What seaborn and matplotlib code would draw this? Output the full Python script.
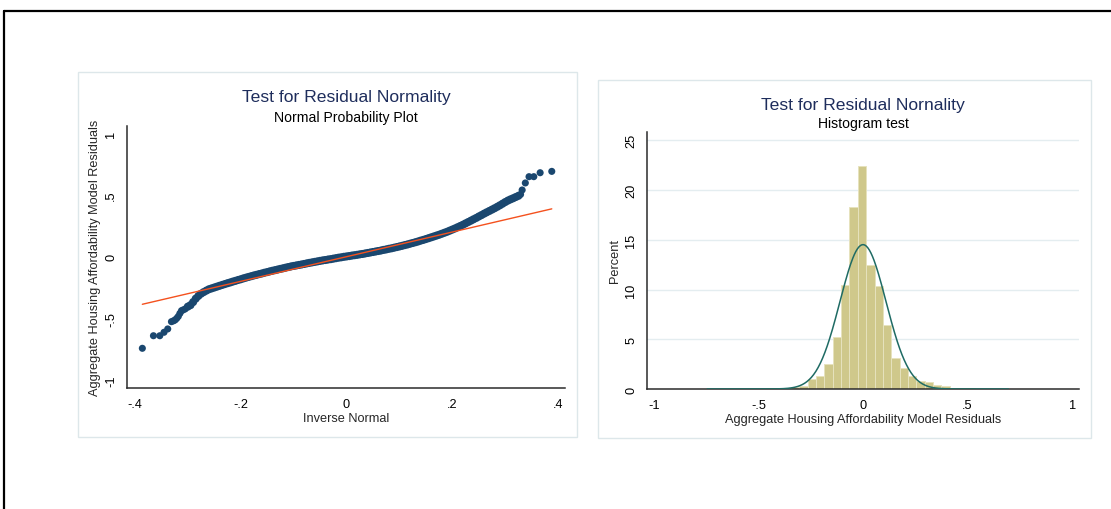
import numpy as np
import pandas as pd
import matplotlib
matplotlib.use("Agg")
import matplotlib.pyplot as plt
import seaborn as sns
from matplotlib.patches import Rectangle
from matplotlib.lines import Line2D

# ---------------- data ----------------
# Normal probability plot: inverse-normal quantile (x) vs sorted residual (y)
qq_band_x = [-0.300, -0.295, -0.290, -0.285, -0.280, -0.275, -0.270, -0.265, -0.260, -0.255,
             -0.250, -0.245, -0.240, -0.235, -0.230, -0.225, -0.220, -0.215, -0.210, -0.205,
             -0.200, -0.195, -0.190, -0.185, -0.180, -0.175, -0.170, -0.165, -0.160, -0.155,
             -0.150, -0.145, -0.140, -0.135, -0.130, -0.125, -0.120, -0.115, -0.110, -0.105,
             -0.100, -0.095, -0.090, -0.085, -0.080, -0.075, -0.070, -0.065, -0.060, -0.055,
             -0.050, -0.045, -0.040, -0.035, -0.030, -0.025, -0.020, -0.015, -0.010, -0.005,
             0.000, 0.005, 0.010, 0.015, 0.020, 0.025, 0.030, 0.035, 0.040, 0.045,
             0.050, 0.055, 0.060, 0.065, 0.070, 0.075, 0.080, 0.085, 0.090, 0.095,
             0.100, 0.105, 0.110, 0.115, 0.120, 0.125, 0.130, 0.135, 0.140, 0.145,
             0.150, 0.155, 0.160, 0.165, 0.170, 0.175, 0.180, 0.185, 0.190, 0.195,
             0.200, 0.205, 0.210, 0.215, 0.220, 0.225, 0.230, 0.235, 0.240, 0.245,
             0.250, 0.255, 0.260, 0.265, 0.270, 0.275, 0.280, 0.285, 0.290, 0.295,
             0.300, 0.305, 0.310, 0.315, 0.320, 0.325]
qq_band_y = [-0.405, -0.393, -0.368, -0.340, -0.318, -0.300, -0.287, -0.275, -0.264, -0.257,
             -0.250, -0.243, -0.236, -0.229, -0.222, -0.215, -0.209, -0.202, -0.196, -0.189,
             -0.183, -0.176, -0.170, -0.164, -0.158, -0.152, -0.147, -0.141, -0.136, -0.130,
             -0.125, -0.119, -0.114, -0.109, -0.104, -0.099, -0.094, -0.089, -0.084, -0.079,
             -0.075, -0.071, -0.067, -0.063, -0.059, -0.054, -0.050, -0.046, -0.042, -0.038,
             -0.034, -0.030, -0.027, -0.023, -0.020, -0.016, -0.012, -0.008, -0.005, -0.001,
             0.002, 0.005, 0.009, 0.012, 0.015, 0.019, 0.022, 0.026, 0.030, 0.034,
             0.038, 0.042, 0.046, 0.050, 0.055, 0.059, 0.064, 0.068, 0.073, 0.078,
             0.083, 0.088, 0.094, 0.099, 0.105, 0.111, 0.117, 0.123, 0.130, 0.136,
             0.143, 0.150, 0.157, 0.164, 0.171, 0.178, 0.186, 0.194, 0.202, 0.211,
             0.220, 0.229, 0.239, 0.249, 0.259, 0.270, 0.281, 0.292, 0.303, 0.314,
             0.326, 0.337, 0.349, 0.360, 0.371, 0.382, 0.393, 0.405, 0.417, 0.430,
             0.443, 0.455, 0.465, 0.474, 0.484, 0.494]
qq_tail_x = [-0.386, -0.365, -0.353, -0.345, -0.338, -0.331, -0.327, -0.324, -0.321, -0.318,
             -0.315, -0.312, -0.309, -0.305, 0.329, 0.332, 0.338, 0.345, 0.354, 0.366, 0.388]
qq_tail_y = [-0.743, -0.641, -0.641, -0.613, -0.586, -0.527, -0.520, -0.513, -0.500, -0.484,
             -0.460, -0.438, -0.432, -0.424, 0.505, 0.541, 0.598, 0.649, 0.649, 0.681, 0.692]

# Histogram: 36 bins of width 0.04 starting at -0.745, heights in percent
hist_start = -0.745
hist_width = 0.04
hist_pct = [0.023, 0.0, 0.046, 0.046, 0.0, 0.046, 0.046, 0.07, 0.09, 0.14,
            0.20, 0.27, 1.00, 1.35, 2.49, 5.20, 10.45, 18.25, 22.42, 12.45,
            10.40, 6.40, 3.15, 2.12, 1.35, 0.78, 0.68, 0.42, 0.33, 0.13,
            0.10, 0.07, 0.046, 0.023, 0.046, 0.046]
# fitted normal overlay
norm_mean = 0.0
norm_sd = 0.110

# ---------------- style ----------------
sns.set_style("white")
plt.rcParams["font.family"] = ["Liberation Sans", "DejaVu Sans"]

NAVY = "#1a476f"
TITLE = "#1e2d5c"
LINE_RED = "#f4511e"
KHAKI = "#cfc88b"
CURVE = "#1f6b64"
GRID = "#e4edf0"
FRAME = "#dde7ea"
AXC = "#2b2b2b"

W, H = 1111, 510
fig = plt.figure(figsize=(W / 100, H / 100), dpi=100)
fig.patch.set_facecolor("white")

def fx(px):
    return px / W

def fy(py):
    return 1 - py / H

# outer black frame (only top/left edges visible)
fig.add_artist(Line2D([fx(3.5), 1.0], [fy(12), fy(12)], color="black", lw=1.6))
fig.add_artist(Line2D([fx(4), fx(4)], [fy(12), 0.0], color="black", lw=1.6))

# panel borders
fig.add_artist(Rectangle((fx(78), fy(438)), fx(577) - fx(78), fy(73) - fy(438),
                         fill=False, edgecolor=FRAME, lw=1.0))
fig.add_artist(Rectangle((fx(598), fy(439)), fx(1091) - fx(598), fy(81) - fy(439),
                         fill=False, edgecolor=FRAME, lw=1.0))

ax1 = fig.add_axes([fx(127), fy(389), fx(565) - fx(127), fy(127) - fy(389)])
ax2 = fig.add_axes([fx(647), fy(390), fx(1079) - fx(647), fy(133) - fy(390)])

def style_axes(ax):
    for s in ["top", "right"]:
        ax.spines[s].set_visible(False)
    for s in ["left", "bottom"]:
        ax.spines[s].set_color(AXC)
        ax.spines[s].set_linewidth(1.1)
    ax.tick_params(axis="both", which="major", direction="out", length=4.5, width=1.0,
                   color=AXC, labelsize=9.2, labelcolor="black", pad=2.5)
    ax.set_facecolor("white")

# ---------------- left: normal probability plot ----------------
band = pd.DataFrame({"x": qq_band_x, "y": qq_band_y})
tail = pd.DataFrame({"x": qq_tail_x, "y": qq_tail_y})
sns.scatterplot(data=band, x="x", y="y", ax=ax1, color=NAVY, s=34, edgecolor="none", linewidth=0)
sns.scatterplot(data=tail, x="x", y="y", ax=ax1, color=NAVY, s=26, edgecolor="none", linewidth=0)
all_x = qq_band_x + qq_tail_x
ref = [min(all_x), max(all_x)]
ax1.plot(ref, ref, color=LINE_RED, lw=1.0, zorder=5)

ax1.set_xlim(-0.415, 0.413)
ax1.set_ylim(-1.065, 1.06)
ax1.set_xticks([-0.4, -0.2, 0, 0.2, 0.4])
ax1.set_xticklabels(["-.4", "-.2", "0", ".2", ".4"])
ax1.set_yticks([-1, -0.5, 0, 0.5, 1])
ax1.set_yticklabels(["-1", "-.5", "0", ".5", "1"], rotation=90, va="center")
style_axes(ax1)
ax1.set_xlabel("Inverse Normal", fontsize=9.2, labelpad=1.5)
ax1.set_ylabel("Aggregate Housing Affordability Model Residuals", fontsize=9.2, labelpad=3)
fig.text(fx(346), fy(102.5), "Test for Residual Normality", ha="center", va="baseline",
         fontsize=12.6, color=TITLE)
fig.text(fx(346), fy(122.3), "Normal Probability Plot", ha="center", va="baseline",
         fontsize=10.1, color="black")

# ---------------- right: histogram ----------------
edges = [hist_start + hist_width * k for k in range(len(hist_pct) + 1)]
centers = [hist_start + hist_width * (k + 0.5) for k in range(len(hist_pct))]
hist_df = pd.DataFrame({"resid": centers, "pct": hist_pct})
for g in [5, 10, 15, 20, 25]:
    ax2.axhline(g, color=GRID, lw=1.0, zorder=0)
sns.histplot(data=hist_df, x="resid", weights="pct", bins=edges, stat="count", ax=ax2,
             color=KHAKI, alpha=1.0, edgecolor="#e6e2bd", linewidth=0.7, zorder=2)
xs = np.linspace(edges[0], edges[-1], 400)
dens = hist_width * 100 / (norm_sd * np.sqrt(2 * np.pi)) * np.exp(-0.5 * ((xs - norm_mean) / norm_sd) ** 2)
ax2.plot(xs, dens, color=CURVE, lw=1.1, zorder=4)

ax2.set_xlim(-1.033, 1.033)
ax2.set_ylim(0, 25.83)
ax2.set_xticks([-1, -0.5, 0, 0.5, 1])
ax2.set_xticklabels(["-1", "-.5", "0", ".5", "1"])
ax2.set_yticks([0, 5, 10, 15, 20, 25])
ax2.set_yticklabels(["0", "5", "10", "15", "20", "25"], rotation=90, va="center")
style_axes(ax2)
ax2.set_xlabel("Aggregate Housing Affordability Model Residuals", fontsize=9.2, labelpad=1.5)
ax2.set_ylabel("Percent", fontsize=9.2, labelpad=3)
fig.text(fx(863), fy(109.7), "Test for Residual Nornality", ha="center", va="baseline",
         fontsize=12.6, color=TITLE)
fig.text(fx(863), fy(128.3), "Histogram test", ha="center", va="baseline",
         fontsize=10.1, color="black")

fig.savefig("out.png", dpi=100, facecolor="white")
